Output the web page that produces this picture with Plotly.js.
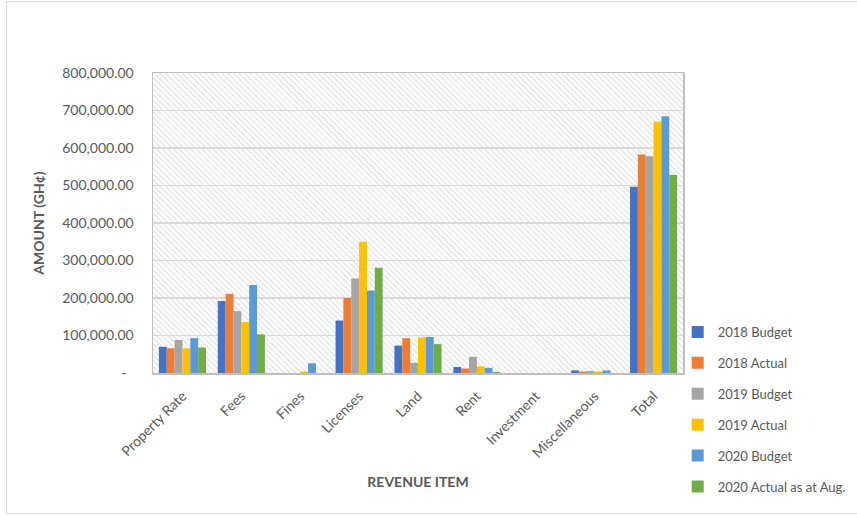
<!DOCTYPE html>
<html>
<head>
<meta charset="utf-8">
<script src="https://cdn.plot.ly/plotly-3.0.1.min.js"></script>
<style>
  html, body { margin: 0; padding: 0; background: #fff; }
  #wrap { position: relative; width: 857px; height: 516px; }
  #chart { width: 857px; height: 516px; }
  #frame { position: absolute; left: 6px; top: 1px; width: 852px; height: 511px; border: 1px solid #d9d9d9; pointer-events: none; }
</style>
</head>
<body>
<div id="wrap"><div id="chart"></div><div id="frame"></div></div>
<script>
const categories = ["Property Rate", "Fees", "Fines", "Licenses", "Land", "Rent", "Investment", "Miscellaneous", "Total"];
const seriesNames = ["2018 Budget", "2018 Actual", "2019 Budget", "2019 Actual", "2020 Budget", "2020 Actual as at Aug."];
const budget2018 = [70000, 192000, 0, 140000, 73000, 16000, 0, 7000, 497000];
const actual2018 = [66000, 211000, 0, 200000, 93000, 12000, 0, 4000, 583000];
const budget2019 = [88000, 165000, 0, 252000, 27000, 43000, 0, 5000, 578000];
const actual2019 = [66000, 136000, 4000, 350000, 95000, 18000, 0, 4000, 670000];
const budget2020 = [93000, 235000, 26000, 220000, 96000, 14000, 0, 7000, 685000];
const actual2020 = [68000, 103000, 0, 281000, 77000, 3000, 0, 0, 528000];
const seriesColors = ["#4472C4", "#ED7D31", "#A5A5A5", "#FFC000", "#5B9BD5", "#70AD47"];
const yTickVals = [0, 100000, 200000, 300000, 400000, 500000, 600000, 700000, 800000];
const yTickText = ["-\u00a0\u00a0", "100,000.00", "200,000.00", "300,000.00", "400,000.00", "500,000.00", "600,000.00", "700,000.00", "800,000.00"];

const allSeries = [budget2018, actual2018, budget2019, actual2019, budget2020, actual2020];
const traces = allSeries.map((vals, i) => ({
  type: "bar",
  name: seriesNames[i],
  x: categories,
  y: vals,
  marker: { color: seriesColors[i] },
  legendgroup: "g" + i
}));

const hatchSvg = '<svg xmlns="http://www.w3.org/2000/svg" width="530" height="300">' +
  '<defs><pattern id="p" width="4" height="4" patternUnits="userSpaceOnUse" patternTransform="rotate(-45)">' +
  '<rect x="0" y="0" width="1.3" height="4" fill="#e2e2e2"/></pattern></defs>' +
  '<rect width="530" height="300" fill="url(#p)"/></svg>';
const hatchUri = "data:image/svg+xml;base64," + btoa(hatchSvg);

const fontFam = "Lato, 'Open Sans', sans-serif";
const layout = {
  width: 857, height: 516,
  margin: { l: 153, r: 174, t: 73, b: 142.5, pad: 0, autoexpand: false },
  paper_bgcolor: "#ffffff",
  plot_bgcolor: "rgba(0,0,0,0)",
  font: { family: fontFam, size: 14, color: "#595959" },
  barmode: "group",
  bargap: 0.2,
  bargroupgap: 0,
  showlegend: true,
  legend: {
    x: 0.99, xanchor: "left", y: -0.43, yanchor: "bottom",
    font: { family: fontFam, size: 13, color: "#595959" },
    tracegroupgap: 11, traceorder: "grouped", itemclick: false,
    bgcolor: "rgba(0,0,0,0)"
  },
  images: [{
    source: hatchUri, xref: "paper", yref: "paper", x: 0, y: 1, sizex: 1, sizey: 1,
    sizing: "stretch", layer: "below", xanchor: "left", yanchor: "top"
  }],
  xaxis: {
    type: "category",
    tickangle: -45,
    showline: true, linecolor: "#bfbfbf", linewidth: 1.5, mirror: true,
    ticks: "", showgrid: false, ticklabelstandoff: 8,
    tickfont: { family: fontFam, size: 14, color: "#595959" },
    title: { text: "<b>REVENUE ITEM</b>", font: { family: fontFam, size: 14, color: "#595959" }, standoff: 17 }
  },
  yaxis: {
    range: [0, 800000],
    tickvals: yTickVals, ticktext: yTickText,
    showline: true, linecolor: "#bfbfbf", linewidth: 1.5, mirror: true,
    showgrid: true, gridcolor: "#d9d9d9", gridwidth: 1.5,
    zeroline: false, ticks: "", ticklen: 0, ticklabelstandoff: 15,
    tickfont: { family: fontFam, size: 14, color: "#595959" },
    title: { text: "<b>AMOUNT (GH¢)</b>", font: { family: fontFam, size: 14, color: "#595959" }, standoff: 14 }
  }
};

Plotly.newPlot("chart", traces, layout, { displayModeBar: false, staticPlot: true });
</script>
</body>
</html>
